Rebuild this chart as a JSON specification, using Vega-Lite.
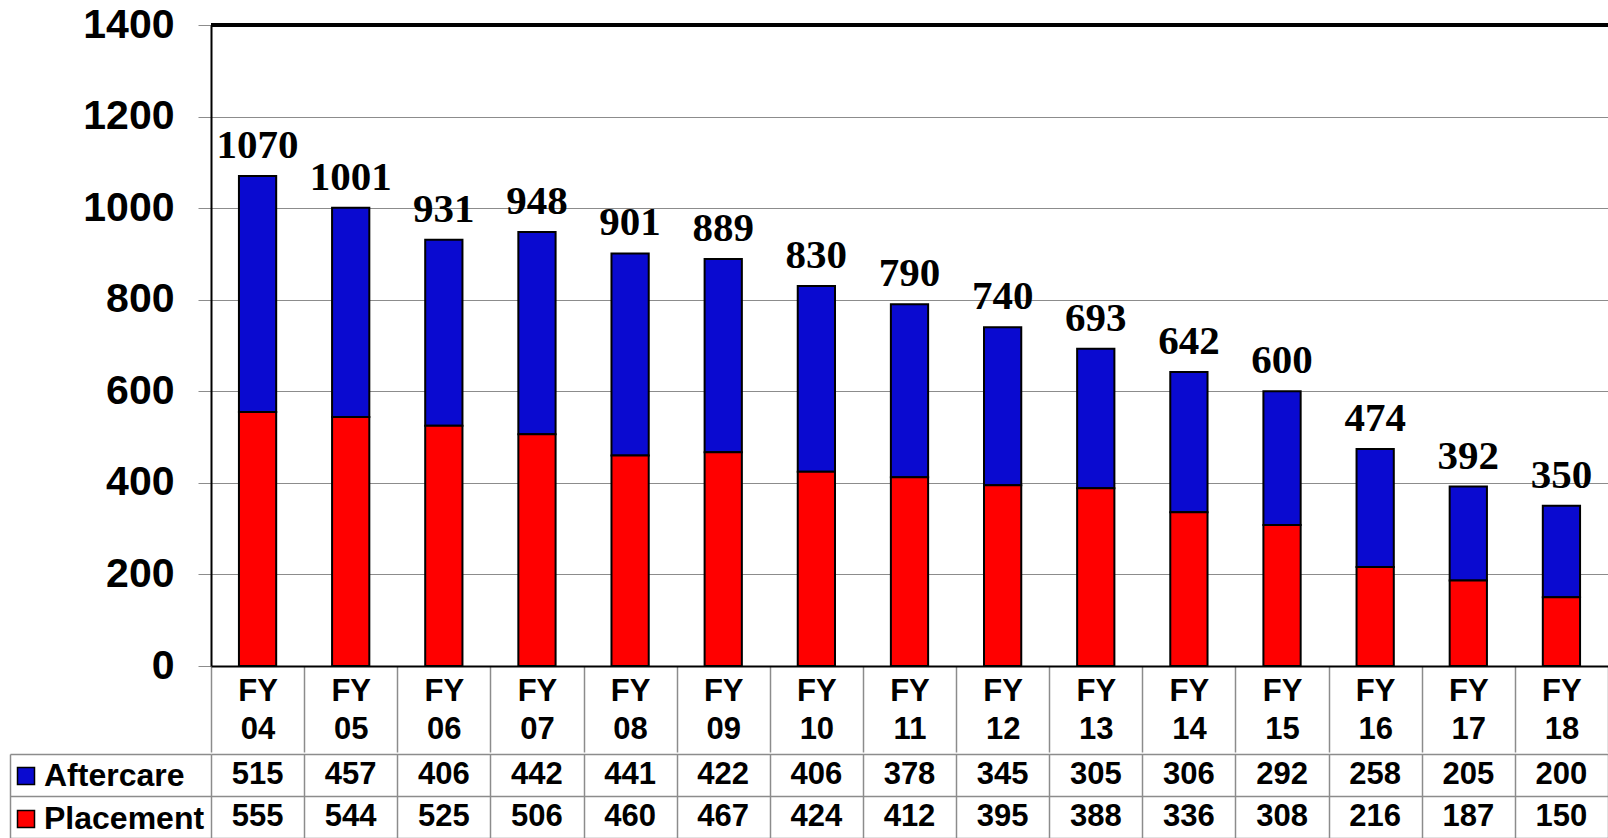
{
  "$schema": "https://vega.github.io/schema/vega-lite/v6.json",
  "background": "white",
  "padding": {"left": 9, "top": 4, "right": 0, "bottom": 0},
  "autosize": {"type": "pad"},
  "spacing": 0,
  "resolve": {"scale": {"color": "independent"}, "legend": {"color": "independent"}},
  "config": {
    "view": {"stroke": null},
    "axis": {"labelColor": "black", "title": null}
  },
  "data": {
    "values": [
      {"fy": "FY 04", "series": "Aftercare", "value": 515},
      {"fy": "FY 04", "series": "Placement", "value": 555},
      {"fy": "FY 05", "series": "Aftercare", "value": 457},
      {"fy": "FY 05", "series": "Placement", "value": 544},
      {"fy": "FY 06", "series": "Aftercare", "value": 406},
      {"fy": "FY 06", "series": "Placement", "value": 525},
      {"fy": "FY 07", "series": "Aftercare", "value": 442},
      {"fy": "FY 07", "series": "Placement", "value": 506},
      {"fy": "FY 08", "series": "Aftercare", "value": 441},
      {"fy": "FY 08", "series": "Placement", "value": 460},
      {"fy": "FY 09", "series": "Aftercare", "value": 422},
      {"fy": "FY 09", "series": "Placement", "value": 467},
      {"fy": "FY 10", "series": "Aftercare", "value": 406},
      {"fy": "FY 10", "series": "Placement", "value": 424},
      {"fy": "FY 11", "series": "Aftercare", "value": 378},
      {"fy": "FY 11", "series": "Placement", "value": 412},
      {"fy": "FY 12", "series": "Aftercare", "value": 345},
      {"fy": "FY 12", "series": "Placement", "value": 395},
      {"fy": "FY 13", "series": "Aftercare", "value": 305},
      {"fy": "FY 13", "series": "Placement", "value": 388},
      {"fy": "FY 14", "series": "Aftercare", "value": 306},
      {"fy": "FY 14", "series": "Placement", "value": 336},
      {"fy": "FY 15", "series": "Aftercare", "value": 292},
      {"fy": "FY 15", "series": "Placement", "value": 308},
      {"fy": "FY 16", "series": "Aftercare", "value": 258},
      {"fy": "FY 16", "series": "Placement", "value": 216},
      {"fy": "FY 17", "series": "Aftercare", "value": 205},
      {"fy": "FY 17", "series": "Placement", "value": 187},
      {"fy": "FY 18", "series": "Aftercare", "value": 200},
      {"fy": "FY 18", "series": "Placement", "value": 150}
    ]
  },
  "vconcat": [
    {
      "width": 1397,
      "height": 641,
      "layer": [
        {
          "mark": {"type": "bar", "stroke": "black", "strokeWidth": 2, "width": {"band": 0.4}},
          "encoding": {
            "x": {
              "field": "fy",
              "type": "ordinal",
              "scale": {"paddingInner": 0, "paddingOuter": 0},
              "axis": {
                "tickBand": "extent",
                "tickSize": 86,
                "tickColor": "#8c8c8c",
                "tickWidth": 1.5,
                "domainColor": "black",
                "domainWidth": 2,
                "labelExpr": "split(datum.label, ' ')",
                "labelFont": "Liberation Sans",
                "labelFontWeight": "bold",
                "labelFontSize": 31,
                "labelLineHeight": 38,
                "labelBaseline": "top",
                "labelPadding": -76,
                "labelAngle": 0,
                "title": null
              }
            },
            "y": {
              "field": "value",
              "type": "quantitative",
              "stack": "zero",
              "scale": {"domain": [0, 1400], "nice": false},
              "axis": {
                "values": [0, 200, 400, 600, 800, 1000, 1200, 1400],
                "format": "d",
                "grid": true,
                "gridColor": "#8c8c8c",
                "gridWidth": 1.2,
                "domainColor": "black",
                "domainWidth": 2,
                "tickColor": "#8c8c8c",
                "tickSize": 13,
                "labelFont": "Liberation Sans",
                "labelFontWeight": "bold",
                "labelFontSize": 41,
                "labelPadding": 24,
                "title": null
              }
            },
            "color": {
              "field": "series",
              "type": "nominal",
              "scale": {"domain": ["Aftercare", "Placement"], "range": ["#0a0ad0", "#ff0000"]},
              "legend": null
            },
            "order": {"field": "series", "sort": "descending"}
          }
        },
        {
          "mark": {
            "type": "text",
            "font": "Liberation Serif",
            "fontWeight": "bold",
            "fontSize": 41,
            "baseline": "alphabetic",
            "dy": -18,
            "color": "black"
          },
          "encoding": {
            "x": {"field": "fy", "type": "ordinal"},
            "y": {"aggregate": "sum", "field": "value", "type": "quantitative"},
            "text": {"aggregate": "sum", "field": "value", "type": "quantitative"}
          }
        },
        {
          "mark": {"type": "rule", "stroke": "black", "strokeWidth": 2.5},
          "encoding": {"y": {"datum": 1400}}
        }
      ]
    },
    {
      "width": 1397,
      "height": 84,
      "resolve": {"axis": {"y": "independent"}},
      "layer": [
        {
          "mark": {
            "type": "text",
            "font": "Liberation Sans",
            "fontWeight": "bold",
            "fontSize": 31,
            "baseline": "middle",
            "color": "black"
          },
          "encoding": {
            "x": {
              "field": "fy",
              "type": "ordinal",
              "scale": {"paddingInner": 0, "paddingOuter": 0},
              "axis": {
                "tickBand": "extent",
                "grid": true,
                "gridColor": "#8c8c8c",
                "gridWidth": 1.5,
                "labels": false,
                "ticks": false,
                "domain": false,
                "title": null
              }
            },
            "y": {
              "field": "series",
              "type": "nominal",
              "scale": {"domain": ["Aftercare", "Placement"], "paddingInner": 0, "paddingOuter": 0},
              "axis": {
                "tickBand": "extent",
                "grid": true,
                "gridColor": "#8c8c8c",
                "gridWidth": 1.5,
                "ticks": true,
                "tickSize": 201,
                "tickColor": "#8c8c8c",
                "tickWidth": 1.5,
                "labels": false,
                "domain": false,
                "title": null
              }
            },
            "text": {"field": "value", "type": "quantitative"}
          }
        },
        {
          "mark": {"type": "square", "opacity": 0, "size": 10},
          "encoding": {
            "x": {"field": "fy", "type": "ordinal"},
            "y": {
              "field": "series",
              "type": "nominal",
              "axis": {
                "orient": "left",
                "offset": 201,
                "domain": true,
                "domainColor": "#8c8c8c",
                "domainWidth": 1.5,
                "ticks": false,
                "labels": false,
                "grid": false,
                "title": null
              }
            },
            "color": {
              "field": "series",
              "type": "nominal",
              "scale": {"domain": ["Aftercare", "Placement"], "range": ["#0a0ad0", "#ff0000"]},
              "legend": {
                "title": null,
                "orient": "none",
                "legendX": -201,
                "legendY": 6,
                "direction": "vertical",
                "symbolType": "square",
                "symbolSize": 289,
                "symbolStrokeColor": "black",
                "symbolStrokeWidth": 1.5,
                "symbolOpacity": 1,
                "labelFont": "Liberation Sans",
                "labelFontWeight": "bold",
                "labelFontSize": 32,
                "labelColor": "black",
                "labelOffset": 2,
                "labelLimit": 0,
                "rowPadding": 11,
                "padding": 0
              }
            }
          }
        }
      ]
    }
  ]
}
